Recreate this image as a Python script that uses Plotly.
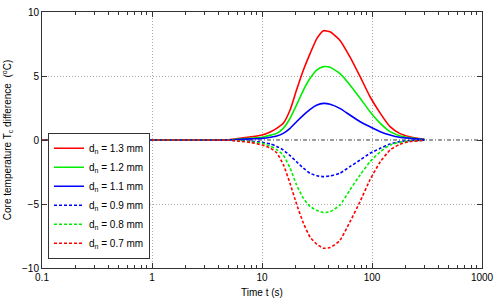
import plotly.graph_objects as go

# Time (s)
t = [0.1, 1, 3, 5, 6.3, 8, 10, 12, 13.6, 15.6, 18, 20.6, 23.8, 27.4, 31.6, 36.2,
     41.6, 51, 63, 78, 96, 119, 146, 178, 220, 300]

d13 = [0, 0, 0, 0.02, 0.13, 0.25, 0.39, 0.65, 0.91, 1.3, 2.34, 3.9, 5.47, 6.77, 7.94, 8.54,
       8.45, 7.8, 6.5, 4.95, 3.38, 2.08, 1.04, 0.52, 0.26, 0.05]
d12 = [0, 0, 0, 0.01, 0.08, 0.14, 0.21, 0.38, 0.52, 0.91, 1.7, 2.73, 3.9, 4.82, 5.47, 5.73,
       5.68, 5.2, 4.3, 3.26, 2.21, 1.3, 0.65, 0.34, 0.18, 0.04]
d11 = [0, 0, 0, 0.01, 0.05, 0.09, 0.13, 0.22, 0.31, 0.52, 0.91, 1.43, 1.95, 2.4, 2.73, 2.86,
       2.79, 2.47, 1.95, 1.43, 1.04, 0.65, 0.39, 0.21, 0.13, 0.03]
d09 = [0, 0, 0, -0.01, -0.05, -0.1, -0.18, -0.32, -0.5, -0.78, -1.22, -1.7, -2.2, -2.6, -2.79, -2.86,
       -2.8, -2.6, -2.08, -1.56, -1.04, -0.65, -0.31, -0.13, -0.05, -0.01]
d08 = [0, 0, 0, -0.01, -0.07, -0.15, -0.26, -0.5, -0.75, -1.17, -2.2, -3.5, -4.56, -5.2, -5.5, -5.67,
       -5.6, -5.1, -3.9, -2.73, -1.7, -0.91, -0.39, -0.18, -0.08, -0.02]
d07 = [0, 0, 0, -0.02, -0.1, -0.2, -0.39, -0.65, -1.0, -1.9, -3.4, -5.0, -6.5, -7.6, -8.15, -8.45,
       -8.4, -7.85, -6.4, -4.8, -3.1, -1.7, -0.78, -0.34, -0.13, -0.03]

labels = ["d<sub>n</sub> = 1.3 mm", "d<sub>n</sub> = 1.2 mm", "d<sub>n</sub> = 1.1 mm",
          "d<sub>n</sub> = 0.9 mm", "d<sub>n</sub> = 0.8 mm", "d<sub>n</sub> = 0.7 mm"]
series = [d13, d12, d11, d09, d08, d07]
colors = ["#ff0000", "#00ee00", "#0000ff", "#0000ff", "#00ee00", "#ff0000"]
dashes = ["solid", "solid", "solid", "3px,2px", "3px,2px", "3px,2px"]

fig = go.Figure()
for lab, ys, c, d in zip(labels, series, colors, dashes):
    fig.add_trace(go.Scatter(x=t, y=ys, mode="lines", name=lab,
                             line=dict(color=c, width=1.6, dash=d, shape="spline", smoothing=0.5)))

fig.add_hline(y=0, line=dict(color="#333333", width=1, dash="4px,2px,1px,2px"), layer="below")

font = dict(family="Liberation Sans, Arial, sans-serif", size=10, color="black")
fig.update_layout(
    width=500, height=300,
    margin=dict(l=42, r=18, t=12, b=32, autoexpand=False),
    paper_bgcolor="white", plot_bgcolor="white",
    font=font,
    showlegend=True,
    legend=dict(x=0.0136, y=0.036, xanchor="left", yanchor="bottom",
                bordercolor="#333333", borderwidth=1, bgcolor="white",
                font=dict(family="Liberation Sans, Arial, sans-serif", size=10),
                itemwidth=30, tracegroupgap=0),
)
fig.update_xaxes(type="log", range=[-1, 3], dtick=1, tickformat="~g", automargin=False,
                 showline=True, linecolor="#333333", linewidth=1, mirror="allticks",
                 ticks="inside", ticklen=5, tickcolor="#333333",
                 showgrid=True, gridcolor="#aaaaaa", griddash="1px,2px", gridwidth=1,
                 zeroline=False,
                 minor=dict(ticks="inside", ticklen=3, tickcolor="#333333", dtick="D1", showgrid=False),
                 title=dict(text="Time t (s)", standoff=6, font=font))
fig.update_yaxes(range=[-10, 10], dtick=5, automargin=False,
                 showline=True, linecolor="#333333", linewidth=1, mirror="allticks",
                 ticks="inside", ticklen=5, tickcolor="#333333",
                 showgrid=True, gridcolor="#aaaaaa", griddash="1px,2px", gridwidth=1,
                 zeroline=False,
                 title=dict(text="Core temperature T<sub>c</sub> difference  (<sup>o</sup>C)",
                            standoff=8, font=font))

fig.write_html("out.html", config={"displayModeBar": False},
               post_script="document.body.style.margin='0';")
